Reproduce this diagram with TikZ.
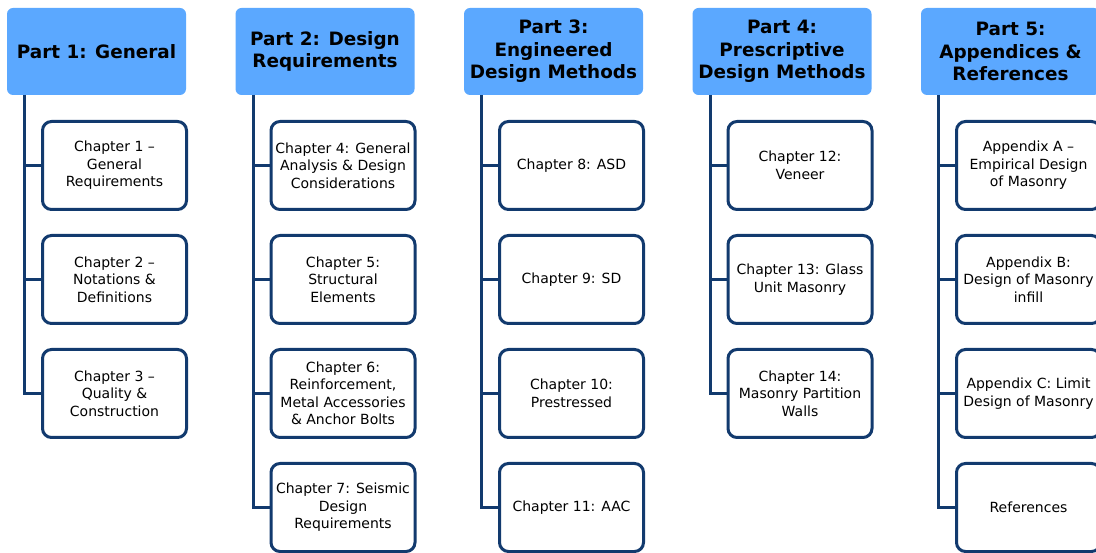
\documentclass[tikz,border=0pt]{standalone}
\usepackage{fontspec}
\setmainfont{DejaVu Sans}
\definecolor{navy}{RGB}{18,58,110}
\definecolor{hdr}{RGB}{91,168,255}
\begin{document}
\begin{tikzpicture}[x=1pt,y=-1pt,
  hdrbox/.style={fill=hdr, rounded corners=6pt, minimum width=179pt, minimum height=87pt,
    align=center, inner sep=0pt, font=\bfseries\fontsize{18.4}{22.5}\selectfont},
  chbox/.style={draw=navy, line width=3pt, fill=white, rounded corners=9pt,
    minimum width=144pt, minimum height=88pt, align=center, inner sep=0pt,
    font=\fontsize{14}{17.5}\selectfont},
  conn/.style={draw=navy, line width=3pt}]
\path[use as bounding box, clip] (0,0) rectangle (1096,553);

% headers
\node[hdrbox] (h1) at (96.5,51.5) {Part 1: General};
\node[hdrbox] (h2) at (325,51.5) {Part 2: Design\\Requirements};
\node[hdrbox] (h3) at (553.5,51.5) {Part 3:\\Engineered\\Design Methods};
\node[hdrbox] (h4) at (782,51.5) {Part 4:\\Prescriptive\\Design Methods};
\node[hdrbox] (h5) at (1010.5,51.5) {Part 5:\\Appendices \&\\References};

% trunk coordinates
\coordinate (t1) at (24.5,95);
\coordinate (t2) at (253,95);
\coordinate (t3) at (481.5,95);
\coordinate (t4) at (710,95);
\coordinate (t5) at (938.5,95);

% children positions (coordinates for connectors)
\coordinate (c11) at (114.5,165.5);
\coordinate (c12) at (114.5,279.5);
\coordinate (c13) at (114.5,393.5);
\coordinate (c21) at (343,165.5);
\coordinate (c22) at (343,279.5);
\coordinate (c23) at (343,393.5);
\coordinate (c24) at (343,507.5);
\coordinate (c31) at (571.5,165.5);
\coordinate (c32) at (571.5,279.5);
\coordinate (c33) at (571.5,393.5);
\coordinate (c34) at (571.5,507.5);
\coordinate (c41) at (800,165.5);
\coordinate (c42) at (800,279.5);
\coordinate (c43) at (800,393.5);
\coordinate (c51) at (1028.5,165.5);
\coordinate (c52) at (1028.5,279.5);
\coordinate (c53) at (1028.5,393.5);
\coordinate (c54) at (1028.5,507.5);

% connectors
\draw[conn] (t1) |- (c13);
\draw[conn] (t1 |- c11) -- (c11);
\draw[conn] (t1 |- c12) -- (c12);
\draw[conn] (t2) |- (c24);
\draw[conn] (t2 |- c21) -- (c21);
\draw[conn] (t2 |- c22) -- (c22);
\draw[conn] (t2 |- c23) -- (c23);
\draw[conn] (t3) |- (c34);
\draw[conn] (t3 |- c31) -- (c31);
\draw[conn] (t3 |- c32) -- (c32);
\draw[conn] (t3 |- c33) -- (c33);
\draw[conn] (t4) |- (c43);
\draw[conn] (t4 |- c41) -- (c41);
\draw[conn] (t4 |- c42) -- (c42);
\draw[conn] (t5) |- (c54);
\draw[conn] (t5 |- c51) -- (c51);
\draw[conn] (t5 |- c52) -- (c52);
\draw[conn] (t5 |- c53) -- (c53);

% child boxes
\node[chbox] (b11) at (c11) {Chapter 1 –\\General\\Requirements};
\node[chbox] (b12) at (c12) {Chapter 2 –\\Notations \&\\Definitions};
\node[chbox] (b13) at (c13) {Chapter 3 –\\Quality \&\\Construction};
\node[chbox] (b21) at (c21) {Chapter 4: General\\Analysis \& Design\\Considerations};
\node[chbox] (b22) at (c22) {Chapter 5:\\Structural\\Elements};
\node[chbox] (b23) at (c23) {Chapter 6:\\Reinforcement,\\Metal Accessories\\\& Anchor Bolts};
\node[chbox] (b24) at (c24) {Chapter 7: Seismic\\Design\\Requirements};
\node[chbox] (b31) at (c31) {Chapter 8: ASD};
\node[chbox] (b32) at (c32) {Chapter 9: SD};
\node[chbox] (b33) at (c33) {Chapter 10:\\Prestressed};
\node[chbox] (b34) at (c34) {Chapter 11: AAC};
\node[chbox] (b41) at (c41) {Chapter 12:\\Veneer};
\node[chbox] (b42) at (c42) {Chapter 13: Glass\\Unit Masonry};
\node[chbox] (b43) at (c43) {Chapter 14:\\Masonry Partition\\Walls};
\node[chbox] (b51) at (c51) {Appendix A –\\Empirical Design\\of Masonry};
\node[chbox] (b52) at (c52) {Appendix B:\\Design of Masonry\\infill};
\node[chbox] (b53) at (c53) {Appendix C: Limit\\Design of Masonry};
\node[chbox] (b54) at (c54) {References};
\end{tikzpicture}
\end{document}
